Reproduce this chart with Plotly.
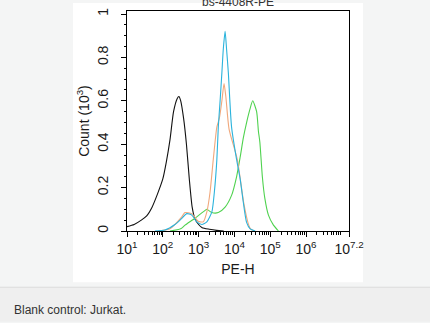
import numpy as np
import plotly.graph_objects as go

# ---- data (log10 of PE-H, count in 10^3) ----
black_logx = [1.0, 1.2, 1.4, 1.55, 1.7, 1.85, 2.0, 2.1, 2.2, 2.3, 2.4, 2.45, 2.5, 2.58, 2.66, 2.74, 2.82, 2.9, 3.0, 3.1, 3.3, 3.5, 3.7]
black_y    = [0.02, 0.03, 0.05, 0.07, 0.11, 0.17, 0.24, 0.32, 0.42, 0.55, 0.61, 0.62, 0.60, 0.52, 0.40, 0.24, 0.11, 0.055, 0.03, 0.015, 0.008, 0.003, 0.0]

orange_logx = [1.9, 2.2, 2.53, 2.62, 2.81, 2.99, 3.13, 3.23, 3.32, 3.41, 3.51, 3.58, 3.65, 3.71, 3.76, 3.85, 4.08, 4.26, 4.4, 4.45, 4.55]
orange_y    = [0.0, 0.01, 0.065, 0.085, 0.08, 0.045, 0.042, 0.088, 0.18, 0.33, 0.48, 0.52, 0.60, 0.68, 0.62, 0.47, 0.33, 0.13, 0.027, 0.01, 0.0]

blue_logx = [1.78, 2.06, 2.34, 2.53, 2.67, 2.81, 2.95, 3.09, 3.23, 3.37, 3.44, 3.51, 3.55, 3.6, 3.65, 3.69, 3.74, 3.78, 3.83, 3.92, 4.06, 4.16, 4.25, 4.34, 4.44, 4.58]
blue_y    = [0.0, 0.005, 0.03, 0.058, 0.08, 0.073, 0.042, 0.03, 0.042, 0.088, 0.18, 0.33, 0.48, 0.60, 0.73, 0.84, 0.92, 0.84, 0.73, 0.48, 0.33, 0.24, 0.13, 0.04, 0.01, 0.0]

green_logx = [2.2, 2.5, 2.62, 2.9, 3.18, 3.23, 3.37, 3.55, 3.74, 3.92, 4.06, 4.16, 4.25, 4.34, 4.44, 4.51, 4.62, 4.67, 4.71, 4.78, 4.85, 4.95, 5.09, 5.23]
green_y    = [0.0, 0.01, 0.027, 0.059, 0.095, 0.10, 0.085, 0.085, 0.11, 0.164, 0.25, 0.34, 0.43, 0.50, 0.565, 0.60, 0.55, 0.46, 0.41, 0.25, 0.15, 0.073, 0.027, 0.0]

x_tick_exps = [1, 2, 3, 4, 5, 6, 7.2]
x_tick_text = ["10<sup>1</sup>", "10<sup>2</sup>", "10<sup>3</sup>", "10<sup>4</sup>",
               "10<sup>5</sup>", "10<sup>6</sup>", "10<sup>7.2</sup>"]
y_tick_vals = [0, 0.2, 0.4, 0.6, 0.8, 1.0]
y_tick_text = ["0", "0.2", "0.4", "0.6", "0.8", "1"]

series = [
    (black_logx, black_y, "#111111"),
    (green_logx, green_y, "#4fd24f"),
    (orange_logx, orange_y, "#f0a87c"),
    (blue_logx, blue_y, "#2bb3dc"),
]

fig = go.Figure()
for lx, yy, col in series:
    fig.add_trace(go.Scatter(
        x=[10 ** v for v in lx], y=yy, mode="lines",
        line=dict(color=col, width=1.1, shape="spline", smoothing=0.6),
        showlegend=False, hoverinfo="skip"))

minor_vals = [m * 10 ** e for e in range(1, 8) for m in range(2, 10) if m * 10 ** e < 10 ** 7.2]

W, H = 430, 323
L, R, T, B = 127, 81, 8, 92
pw, ph = W - L - R, H - T - B

def px(x):
    return (x - L) / pw

def py(y):
    return (H - B - y) / ph

shapes = [
    dict(type="rect", xref="paper", yref="paper", x0=px(73), x1=px(363), y0=py(283), y1=py(0),
         fillcolor="white", line=dict(width=0), layer="below"),
    dict(type="rect", xref="paper", yref="paper", x0=px(0), x1=px(430), y0=py(323), y1=py(288),
         fillcolor="#efefef", line=dict(width=0), layer="below"),
    dict(type="line", xref="paper", yref="paper", x0=px(0), x1=px(430), y0=py(288), y1=py(288),
         line=dict(color="#dcdcdc", width=1), layer="below"),
]

font_fam = "Arial, Liberation Sans, sans-serif"
fig.update_layout(
    width=W, height=H,
    margin=dict(l=L, r=R, t=T, b=B, pad=0),
    paper_bgcolor="#f4f5f5",
    plot_bgcolor="white",
    shapes=shapes,
    font=dict(family=font_fam, color="#1a1a1a"),
    annotations=[
        dict(text="Blank control: Jurkat.", xref="paper", yref="paper", x=px(12), y=py(311),
             xanchor="left", yanchor="middle", showarrow=False,
             font=dict(size=12, color="#333333", family=font_fam)),
        dict(text="bs-4408R-PE", xref="paper", yref="paper", x=px(238), y=py(-1),
             xanchor="center", yanchor="middle", showarrow=False,
             font=dict(size=12, color="#333333", family=font_fam)),
    ],
)
fig.update_xaxes(
    type="log", range=[1, 7.2],
    tickvals=[10 ** e for e in x_tick_exps], ticktext=x_tick_text,
    ticks="outside", ticklen=5, tickcolor="black", tickwidth=1,
    minor=dict(tickvals=minor_vals, ticks="outside", ticklen=2.5, tickcolor="black", tickwidth=1),
    showline=True, linecolor="black", linewidth=1, mirror=True,
    showgrid=False, zeroline=False,
    tickfont=dict(size=14, color="#1a1a1a"),
    title=dict(text="PE-H", font=dict(size=14, color="#1a1a1a"), standoff=8),
)
fig.update_yaxes(
    range=[0, 1.014],
    tickvals=y_tick_vals, ticktext=y_tick_text, tickangle=-90,
    ticks="outside", ticklen=5, tickcolor="black", tickwidth=1,
    ticklabelstandoff=7,
    minor=dict(dtick=0.05, ticks="outside", ticklen=2.5, tickcolor="black", tickwidth=1),
    showline=True, linecolor="black", linewidth=1, mirror=True,
    showgrid=False, zeroline=False,
    tickfont=dict(size=14, color="#1a1a1a"),
    title=dict(text="Count (10<sup>3</sup>)", font=dict(size=14, color="#1a1a1a"), standoff=2),
)

fig.write_html("out.html")
